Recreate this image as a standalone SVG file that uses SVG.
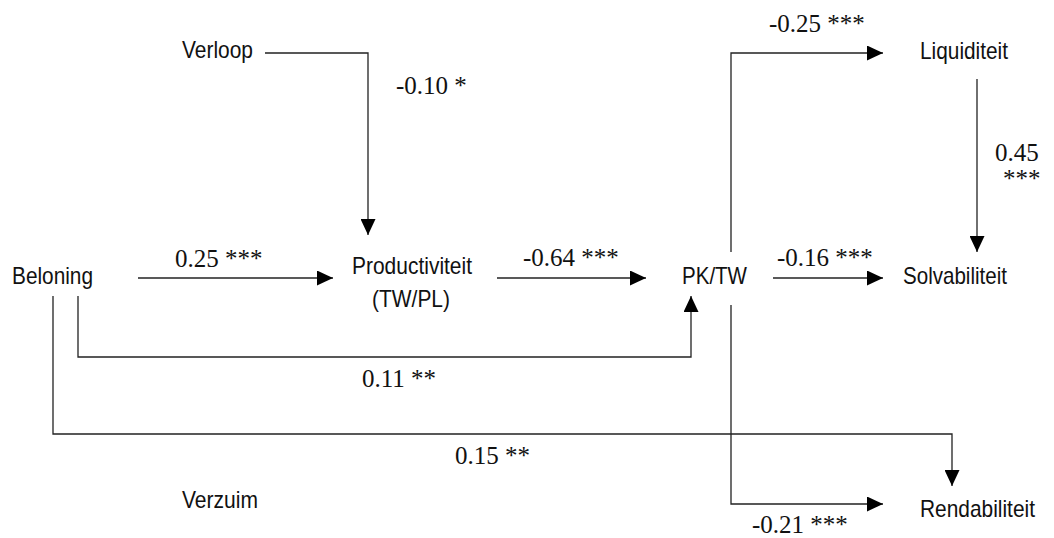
<svg xmlns="http://www.w3.org/2000/svg" width="1054" height="538" viewBox="0 0 1054 538">
  <style>
    .node { font-family: "Liberation Sans", Arial, sans-serif; font-size: 24px; fill: #111; }
    .coef { font-family: "Liberation Serif", "Times New Roman", serif; font-size: 25px; fill: #111; }
    .link { fill: none; stroke: #222; stroke-width: 1.3; marker-end: url(#arrow); }
  </style>
  <defs>
    <marker id="arrow" markerUnits="userSpaceOnUse" markerWidth="16" markerHeight="15" refX="16" refY="7.5" orient="auto">
      <path d="M0,0 L16,7.5 L0,15 Z" fill="#000"/>
    </marker>
  </defs>
  <rect width="1054" height="538" fill="#fff"/>

  <!-- paths between the variables -->
  <g id="connectors">
    <path class="link" d="M265,53 H368 V235"/>
    <path class="link" d="M138,278 H333"/>
    <path class="link" d="M497,278 H646"/>
    <path class="link" d="M78,296 V357 H691 V296"/>
    <path class="link" d="M53,296 V434 H952 V486"/>
    <path class="link" d="M731,252 V53 H883"/>
    <path class="link" d="M773,278 H883"/>
    <path class="link" d="M977,79 V252"/>
    <path class="link" d="M731,305 V504 H883"/>
  </g>

  <!-- path coefficients -->
  <g id="coefficients">
    <text class="coef" x="396" y="94">-0.10 *</text>
    <text class="coef" x="175" y="267">0.25 ***</text>
    <text class="coef" x="523" y="266">-0.64 ***</text>
    <text class="coef" x="777" y="266">-0.16 ***</text>
    <text class="coef" x="769" y="32">-0.25 ***</text>
    <text class="coef" x="995" y="161">0.45</text>
    <text class="coef" x="1003" y="187">***</text>
    <text class="coef" x="362" y="387">0.11 **</text>
    <text class="coef" x="455" y="464">0.15 **</text>
    <text class="coef" x="752" y="533">-0.21 ***</text>
  </g>

  <g id="verloop"><text class="node" x="182" y="58" textLength="71" lengthAdjust="spacingAndGlyphs">Verloop</text></g>
  <g id="beloning"><text class="node" x="12" y="284" textLength="81" lengthAdjust="spacingAndGlyphs">Beloning</text></g>
  <g id="productiviteit">
    <text class="node" x="352" y="274" textLength="120" lengthAdjust="spacingAndGlyphs">Productiviteit</text>
    <text class="node" x="372" y="307" textLength="78" lengthAdjust="spacingAndGlyphs">(TW/PL)</text>
  </g>
  <g id="pktw"><text class="node" x="682" y="284" textLength="65" lengthAdjust="spacingAndGlyphs">PK/TW</text></g>
  <g id="liquiditeit"><text class="node" x="920" y="59" textLength="88" lengthAdjust="spacingAndGlyphs">Liquiditeit</text></g>
  <g id="solvabiliteit"><text class="node" x="903" y="284" textLength="104" lengthAdjust="spacingAndGlyphs">Solvabiliteit</text></g>
  <g id="rendabiliteit"><text class="node" x="920" y="517" textLength="115" lengthAdjust="spacingAndGlyphs">Rendabiliteit</text></g>
  <g id="verzuim"><text class="node" x="182" y="508" textLength="76" lengthAdjust="spacingAndGlyphs">Verzuim</text></g>
</svg>
